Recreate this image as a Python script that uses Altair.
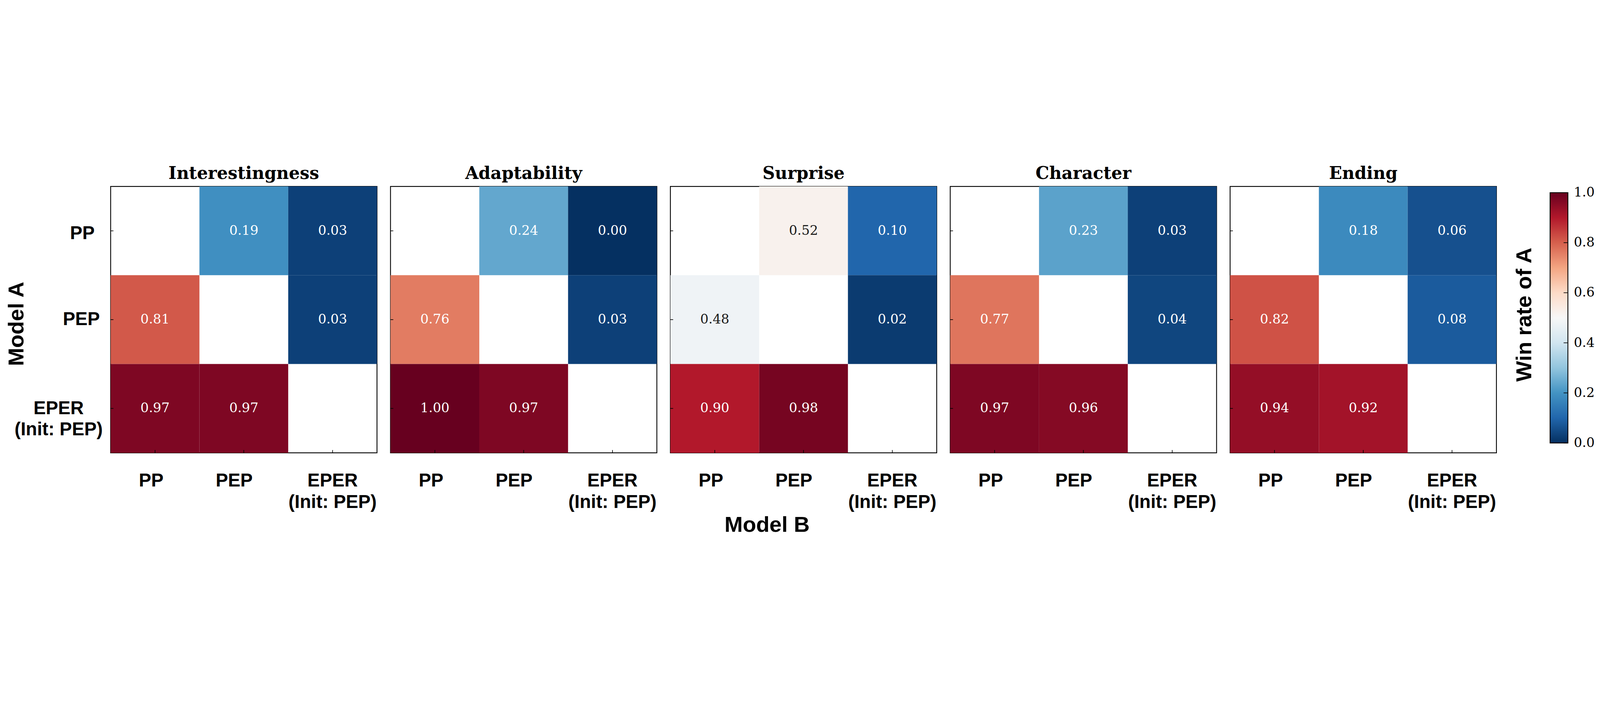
import altair as alt
import pandas as pd

# ---------------- data ----------------
aspects = ["Interestingness", "Adaptability", "Surprise", "Character", "Ending"]
models = ["PP", "PEP", "EPER\n(Init: PEP)"]

# rows = Model A, columns = Model B (None = diagonal, not shown)
interestingness = [[None, 0.19, 0.03], [0.81, None, 0.03], [0.97, 0.97, None]]
adaptability = [[None, 0.24, 0.00], [0.76, None, 0.03], [1.00, 0.97, None]]
surprise = [[None, 0.52, 0.10], [0.48, None, 0.02], [0.90, 0.98, None]]
character = [[None, 0.23, 0.03], [0.77, None, 0.04], [0.97, 0.96, None]]
ending = [[None, 0.18, 0.06], [0.82, None, 0.08], [0.94, 0.92, None]]
matrices = [interestingness, adaptability, surprise, character, ending]

colorbar_ticks = [0.0, 0.2, 0.4, 0.6, 0.8, 1.0]
colorbar_range = [0.0, 1.0]
# matplotlib RdBu_r anchor colours
cmap_stops = [0.0, 0.1, 0.2, 0.3, 0.4, 0.5, 0.6, 0.7, 0.8, 0.9, 1.0]
cmap_colors = ["#053061", "#2166ac", "#4393c3", "#92c5de", "#d1e5f0", "#f7f7f7",
               "#fddbc7", "#f4a582", "#d6604d", "#b2182b", "#67001f"]

rows = []
for aspect, mat in zip(aspects, matrices):
    for i, a in enumerate(models):
        for j, b in enumerate(models):
            v = mat[i][j]
            if v is not None:
                rows.append({"aspect": aspect, "A": a, "B": b, "value": v})
df = pd.DataFrame(rows)
tick_df = pd.DataFrame({"A": models, "B": models})
cb_tick_df = pd.DataFrame({"t": colorbar_ticks})
cb_bar_df = pd.DataFrame({"lo": [colorbar_range[0]], "hi": [colorbar_range[1]]})

# ---------------- layout constants ----------------
W = 1241
H = 1241
SANS = "Liberation Sans"
SERIF = "DejaVu Serif"

color_scale = alt.Scale(domain=cmap_stops, range=cmap_colors, interpolate="rgb")


def panel(k, aspect):
    d = df[df.aspect == aspect]
    x_axis_kw = dict(
        labelExpr="split(datum.label, '\\n')",
        labelAngle=0,
        labelFont=SANS,
        labelFontWeight="bold",
        labelFontSize=86,
        labelColor="black",
        labelBaseline="middle",
        labelLineHeight=100,
        labelPadding=130,
        labelLimit=2000,
        labelOffset={"condition": [{"test": "datum.value == 'PP'", "value": -18},
                                   {"test": "datum.value == 'PEP'", "value": -45}],
                     "value": 0},
        ticks=False,
        tickSize=0,
        domain=False,
        grid=False,
    )
    if k == 2:
        x_axis = alt.Axis(title="Model B", titleFont=SANS, titleFontWeight="bold",
                          titleFontSize=102, titleColor="black", titleX=450, titleY=367,
                          titleBaseline="alphabetic", titleAlign="center", **x_axis_kw)
    else:
        x_axis = alt.Axis(title=None, **x_axis_kw)

    if k == 0:
        y_axis = alt.Axis(
            title="Model A", titleFont=SANS, titleFontWeight="bold", titleFontSize=102,
            titleColor="black", titleX=-407, titleY=640, titleAngle=270,
            titleBaseline="alphabetic", titleAlign="center",
            labelExpr="split(datum.label, '\\n')",
            labelFont=SANS, labelFontWeight="bold", labelFontSize=86, labelColor="black",
            labelLineHeight=100, labelLimit=2000, labelBaseline="middle",
            labelAlign={"condition": {"test": "datum.value == 'PP' || datum.value == 'PEP'",
                                      "value": "right"}, "value": "center"},
            labelPadding={"condition": [{"test": "datum.value == 'PP'", "value": 75},
                                        {"test": "datum.value == 'PEP'", "value": 51}],
                          "value": 243},
            labelOffset={"condition": {"test": "datum.value == 'PP'", "value": 12}, "value": 0},
            ticks=False, tickSize=0, domain=False, grid=False,
        )
    else:
        y_axis = alt.Axis(title=None, labels=False, ticks=False, tickSize=0,
                          domain=False, grid=False)

    x_enc = alt.X("B:N", sort=models,
                  scale=alt.Scale(domain=models, paddingInner=0, paddingOuter=0),
                  axis=x_axis)
    y_enc = alt.Y("A:N", sort=models,
                  scale=alt.Scale(domain=models, paddingInner=0, paddingOuter=0),
                  axis=y_axis)

    base = alt.Chart(d)
    rect = base.mark_rect().encode(
        x=x_enc, y=y_enc,
        color=alt.Color("value:Q", scale=color_scale, legend=None),
    )
    text = base.mark_text(font=SERIF, fontSize=61, baseline="middle").encode(
        x=x_enc, y=y_enc,
        text=alt.Text("value:Q", format=".2f"),
        color=alt.condition("abs(datum.value - 0.5) > 0.2", alt.value("white"),
                            alt.value("#1a1a1a")),
    )
    xt = alt.Chart(tick_df).mark_rule(color="black", strokeWidth=3).encode(
        x=x_enc, y=alt.value(H - 13), y2=alt.value(H))
    yt = alt.Chart(tick_df).mark_rule(color="black", strokeWidth=3).encode(
        y=y_enc, x=alt.value(0), x2=alt.value(13))
    title = alt.Chart(pd.DataFrame({"aspect": [aspect]})).mark_text(
        font=SERIF, fontSize=80, fontWeight="bold", color="black",
        baseline="alphabetic", align="center",
    ).encode(text="aspect:N", x=alt.value(W / 2), y=alt.value(-34))

    return alt.layer(rect, text, xt, yt, title).properties(width=W, height=H)


panels = [panel(k, a) for k, a in enumerate(aspects)]

# colour-bar cell: plot area starts 63 px right of the last panel,
# bar occupies x 187..270, values 0..1 mapped to y 1195..29 of this cell
CB_W = 270
cb_scale = alt.Scale(domain=colorbar_range, range=[1195, 29])
cb_axis = alt.Axis(orient="right", values=colorbar_ticks, format=".1f",
                   labelFont=SERIF, labelFontSize=61, labelColor="black",
                   labelPadding=27, labelBaseline="middle", labelFlush=False,
                   ticks=False, tickSize=0, domain=False, grid=False,
                   title="Win rate of A", titleFont=SANS, titleFontWeight="bold",
                   titleFontSize=102, titleColor="black", titleX=-172, titleY=597,
                   titleAngle=270, titleBaseline="alphabetic", titleAlign="center")

gradient_fill = alt.LinearGradient(
    gradient="linear", x1=0, y1=1, x2=0, y2=0,
    stops=[alt.GradientStop(offset=s, color=c) for s, c in zip(cmap_stops, cmap_colors)],
)
cb_bar = alt.Chart(cb_bar_df).mark_rect(fill=gradient_fill, stroke="black",
                                        strokeWidth=4).encode(
    y=alt.Y("hi:Q", scale=cb_scale, axis=cb_axis),
    y2="lo:Q",
    x=alt.value(CB_W - 83), x2=alt.value(CB_W),
)
cb_ticks = alt.Chart(cb_tick_df).mark_rule(color="black", strokeWidth=3).encode(
    y=alt.Y("t:Q", scale=cb_scale, axis=cb_axis),
    x=alt.value(CB_W - 20), x2=alt.value(CB_W))
colorbar = alt.layer(cb_bar, cb_ticks).properties(
    width=CB_W, height=H, view=alt.ViewBackground(strokeOpacity=0))

chart = alt.hconcat(*panels, colorbar, spacing=63, bounds="flush").properties(
    padding={"left": 10, "top": 30, "right": 10, "bottom": 5},
    background="white",
).configure_view(stroke="black", strokeWidth=4)

chart.save("out.html", embed_options={"renderer": "svg", "actions": False})
